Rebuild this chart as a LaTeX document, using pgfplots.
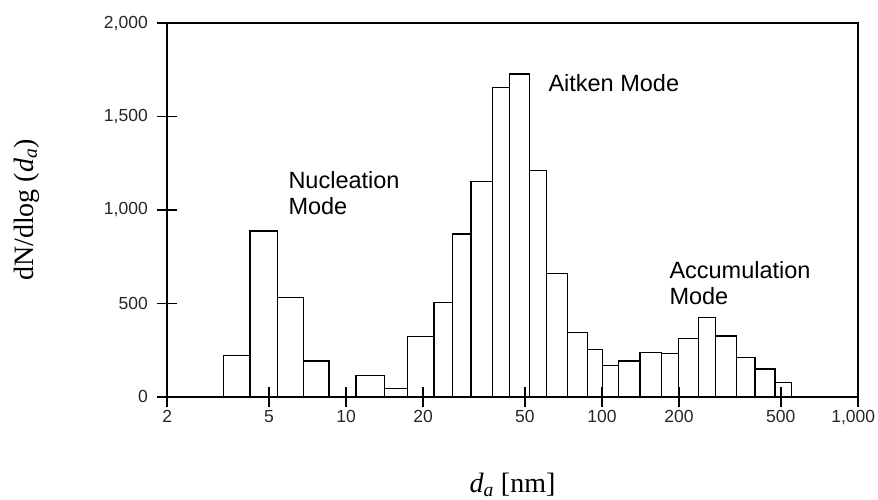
\documentclass[border=0pt]{standalone}
\usepackage{pgfplots}
\pgfplotsset{compat=1.18}
\usepackage{fontspec}
\setmainfont{Liberation Serif}
\newfontfamily\arial{Liberation Sans}

\begin{document}
\begin{tikzpicture}
\path[use as bounding box] (-167.3bp,-103.3bp) rectangle (710.7bp,396.7bp);
\begin{axis}[
  at={(0,0)}, anchor=south west, scale only axis,
  width=690.4bp, height=373.4bp,
  xmode=log, xmin=2, xmax=1000, ymin=0, ymax=2000,
  xtick={2,5,10,20,50,100,200,500,1000},
  xticklabels={2,5,10,20,50,100,200,500,{\hspace*{-9bp}1,000}},
  ytick={0,500,1000,1500,2000},
  yticklabels={0,500,{1,000},{1,500},{2,000}},
  xminorticks=false, yminorticks=false,
  tick align=center, major tick length=20bp,
  xtick pos=bottom, ytick pos=left,
  axis line style={line width=1.6bp},
  tick style={line width=1.6bp, black},
  ticklabel style={font=\arial\fontsize{17.5bp}{21bp}\selectfont, text=black!85},
  yticklabel style={xshift=-6bp},
  axis on top,
  clip=false,
  xlabel={\fontsize{28bp}{32bp}\selectfont \textit{d}\textsubscript{\textit{a}} [nm]},
  ylabel={\fontsize{28bp}{32bp}\selectfont dN/dlog (\textit{d}\textsubscript{\textit{a}})},
  every axis x label/.style={at={(rel axis cs:0.5,0)}, anchor=base, yshift=-96bp},
  every axis y label/.style={at={(rel axis cs:0,0.5)}, anchor=center, rotate=90, yshift=140.8bp},
]
\addplot[ybar interval, fill=white, draw=black, line width=1.4bp] coordinates {
 (3.31,220) (4.21,888) (5.38,532) (6.80,191) (8.58,0)
 (10.93,112) (14.1,45) (17.42,321) (22.06,506) (26.02,871)
 (30.79,1152) (37.43,1657) (43.46,1729) (52.04,1211) (60.85,661)
 (73.25,345) (87.7,254) (100.7,166) (115.9,191) (140.9,236)
 (171.3,232) (198.9,313) (238.2,423) (278.6,325) (336.6,211)
 (396.9,148) (475,77) (552.2,77)
};
\end{axis}
\begin{scope}[every node/.style={font=\arial\fontsize{23.5bp}{27bp}\selectfont, anchor=base west, inner sep=0pt}]
\node at (121bp,208.4bp) {Nucleation};
\node at (121bp,181.7bp) {Mode};
\node at (381bp,305bp) {Aitken Mode};
\node at (502bp,118.4bp) {Accumulation};
\node at (502bp,91.7bp) {Mode};
\end{scope}
\end{tikzpicture}
\end{document}
